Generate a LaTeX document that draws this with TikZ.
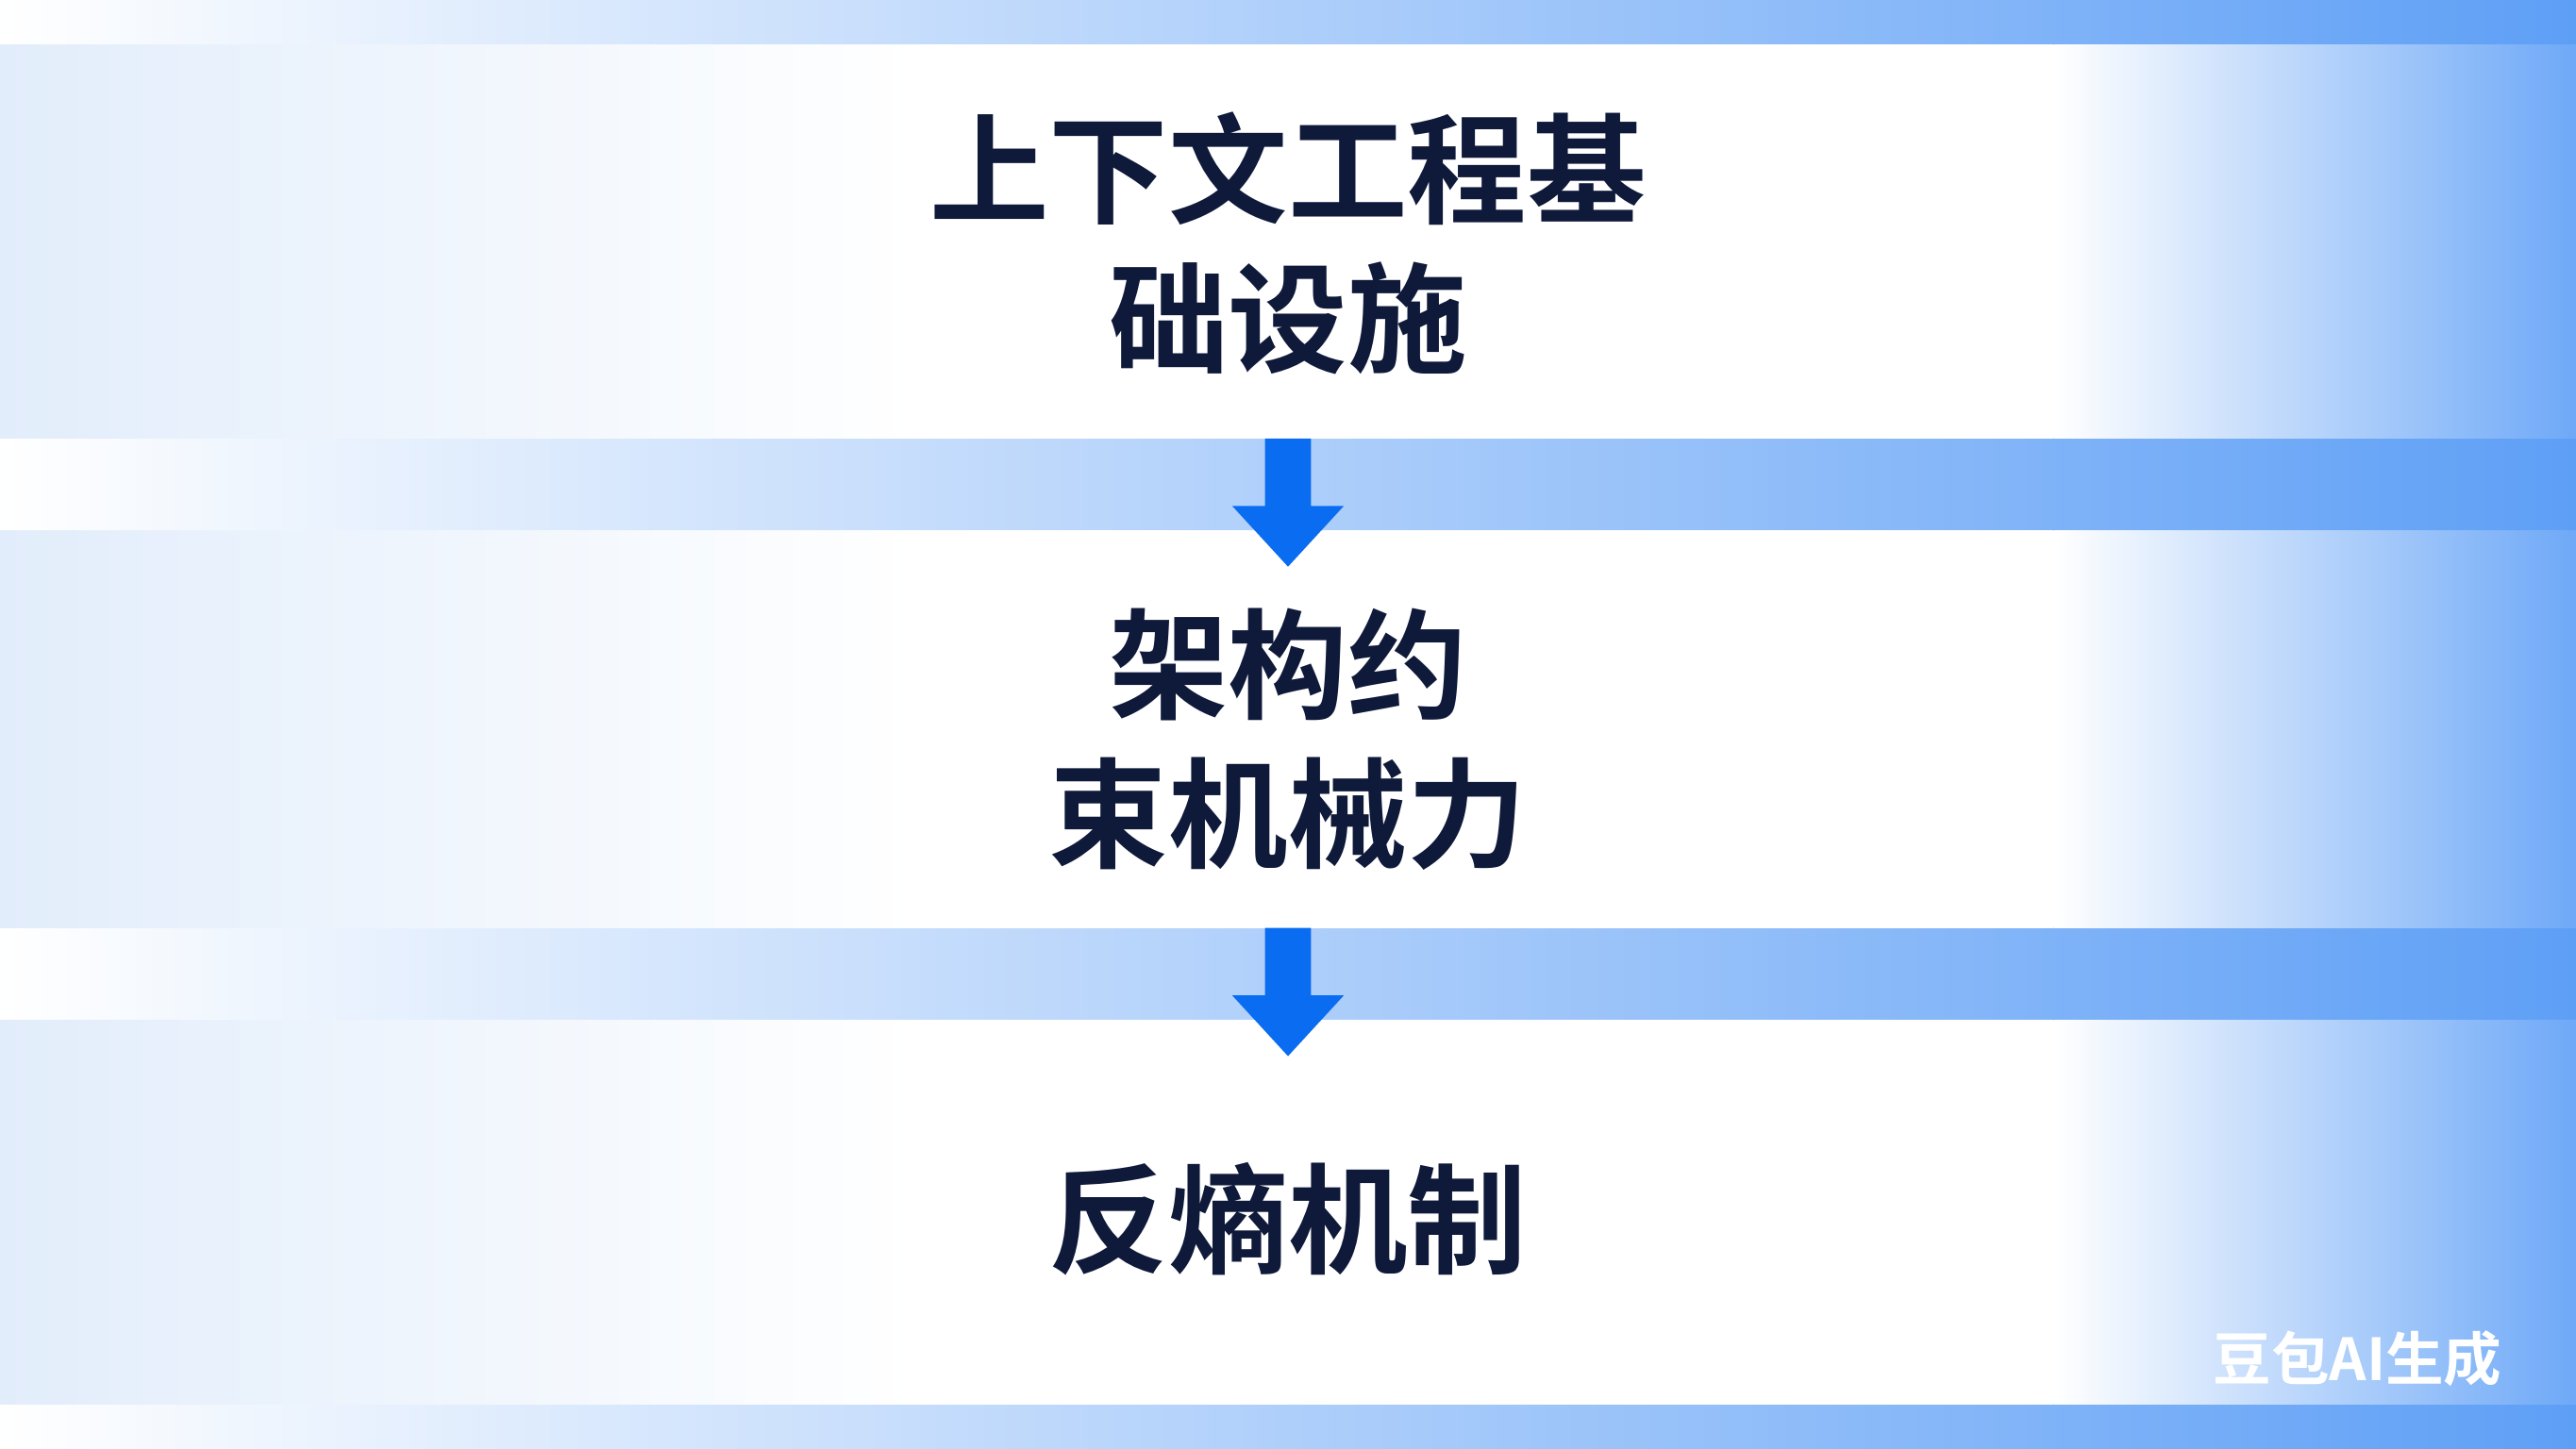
\documentclass[tikz,border=0pt]{standalone}
\usepackage{fontspec}
\newfontfamily\cjk{Noto Sans CJK SC Bold}
\definecolor{navy}{HTML}{0F1A3A}
\definecolor{arrowblue}{HTML}{0A6CF0}
\definecolor{deepband}{HTML}{5E9FF6}
\definecolor{paleband}{HTML}{E2EDFB}
\tikzset{
  lbl/.style={font=\cjk\fontsize{36}{45}\selectfont, text=navy, align=center},
  flowarrow/.style={fill=arrowblue, draw=none},
}
\begin{document}
\begin{tikzpicture}[x=0.017411cm,y=-0.017411cm]
\useasboundingbox (0,0) rectangle (1568,882);
% strips
\foreach \a/\b in {0/27,267/323,565/621,855/882}{
  \shade[left color=white, right color=deepband] (0,\a) rectangle (1568,\b);
}
% bands
\foreach \a/\b in {27/267,323/565,621/855}{
  \shade[left color=paleband, right color=white] (0,\a) rectangle (560,\b);
  \fill[white] (560,\a) rectangle (1250,\b);
  \shade[left color=white, right color=deepband!90] (1250,\a) rectangle (1568,\b);
}
% text
\node[lbl] (t1) at (784,148) {上下文工程基\\础设施};
\node[lbl] (t2) at (784,450) {架构约\\束机械力};
\node[lbl] (t3) at (784,742) {反熵机制};
% arrows
\fill[flowarrow] (770,267) -- (798,267) -- (798,308) -- (818,308) -- (784,345) -- (750,308) -- (770,308) -- cycle;
\fill[flowarrow] (770,565) -- (798,565) -- (798,606) -- (818,606) -- (784,643) -- (750,606) -- (770,606) -- cycle;
\node[font=\cjk\fontsize{17.5}{21}\selectfont, text=white, anchor=east] (wm) at (1530,827) {豆包AI生成};
\end{tikzpicture}
\end{document}
